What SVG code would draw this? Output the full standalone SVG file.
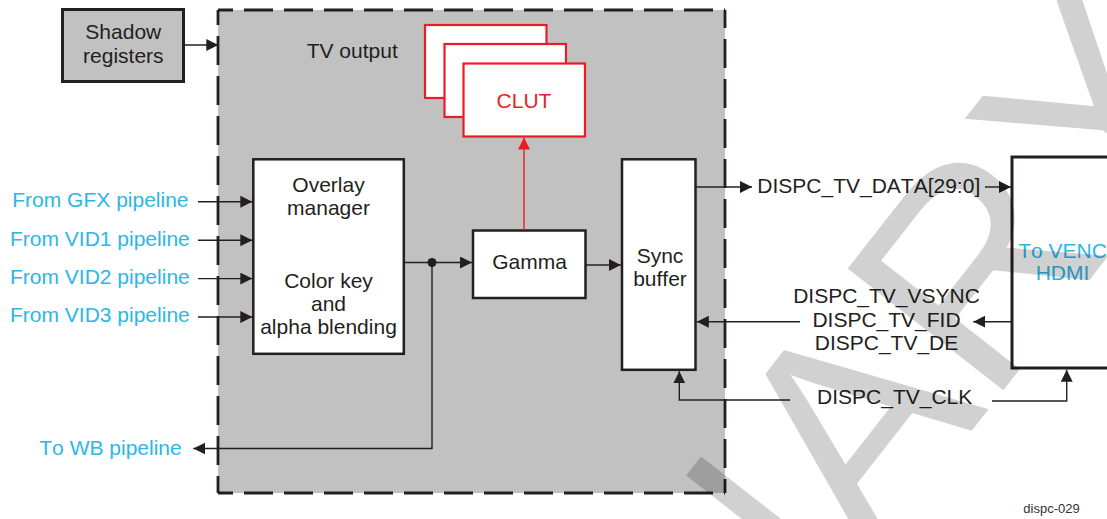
<svg xmlns="http://www.w3.org/2000/svg" width="1107" height="519" viewBox="0 0 1107 519">
<defs>
<style>
text{font-family:"Liberation Sans",Arial,sans-serif;font-size:21px;fill:#231f20;font-kerning:none}
.c{text-anchor:middle}
.cy{fill:#2db6e8}
.red{fill:#ed1c24}
.box{fill:#fff;stroke:#231f20;stroke-width:2.5}
.thick{stroke-width:3}
.clut{fill:#fff;stroke:#ed1c24;stroke-width:2.2}
.ln{fill:none;stroke:#231f20;stroke-width:1.4}
.rln{fill:none;stroke:#ed1c24;stroke-width:1.4}
.dash{fill:none;stroke:#231f20;stroke-width:2.8;stroke-dasharray:29 11}
</style>
<marker id="ah" markerUnits="userSpaceOnUse" markerWidth="13" markerHeight="13" refX="12" refY="6" orient="auto"><path d="M0,0 L12,6 L0,12 z" fill="#231f20"/></marker>
<marker id="ahr" markerUnits="userSpaceOnUse" markerWidth="13" markerHeight="13" refX="12" refY="6" orient="auto"><path d="M0,0 L12,6 L0,12 z" fill="#ed1c24"/></marker>
</defs>
<rect width="1107" height="519" fill="#fff"/>

<g id="tv-output">
<rect x="218" y="10" width="507" height="483" fill="#c1c1c1"/>
<line class="dash" x1="218" y1="10" x2="725" y2="10" stroke-dashoffset="14"/>
<line class="dash" x1="218" y1="10" x2="218" y2="493" stroke-dashoffset="14"/>
<line class="dash" x1="725" y1="10" x2="725" y2="493" stroke-dashoffset="11"/>
<line class="dash" x1="218" y1="493" x2="725" y2="493" stroke-dashoffset="14"/>
<text x="306.7" y="58.3">TV output</text>
</g>

<g id="shadow-registers">
<rect x="62.5" y="9.5" width="121" height="72" fill="#c1c1c1" stroke="#231f20" stroke-width="3"/>
<text class="c" x="123.3" y="39">Shadow</text>
<text class="c" x="123.3" y="63">registers</text>
</g>

<g id="clut">
<rect class="clut" x="425" y="25" width="121.5" height="73"/>
<rect class="clut" x="444.5" y="44" width="121.5" height="73"/>
<rect class="clut" x="463.5" y="63.5" width="121.5" height="73"/>
<text class="c red" x="524" y="108.3">CLUT</text>
</g>

<g id="overlay-manager">
<rect class="box" x="253.3" y="159.3" width="150.5" height="194.5"/>
<text class="c" x="328.5" y="191.5">Overlay</text>
<text class="c" x="328.5" y="214.5">manager</text>
<text class="c" x="328.5" y="287.5">Color key</text>
<text class="c" x="328.5" y="310.5">and</text>
<text class="c" x="328.5" y="333.7">alpha blending</text>
</g>

<g id="gamma">
<rect class="box" x="473" y="230.5" width="112.5" height="67.5"/>
<text class="c" x="529.5" y="269.4">Gamma</text>
</g>

<g id="sync-buffer">
<rect class="box" x="622" y="159.3" width="73.5" height="210.5"/>
<text class="c" x="660" y="262.7">Sync</text>
<text class="c" x="660" y="285.7">buffer</text>
</g>

<g id="venc-hdmi">
<rect class="box thick" x="1012" y="157" width="110" height="211"/>
<text class="c cy" x="1062.5" y="258.3">To VENC</text>
<text class="c cy" x="1062.5" y="280">HDMI</text>
</g>

<g id="inputs">
<text class="cy" x="12.3" y="207.3">From GFX pipeline</text>
<text class="cy" x="10" y="245.7">From VID1 pipeline</text>
<text class="cy" x="10" y="284">From VID2 pipeline</text>
<text class="cy" x="10" y="322.3">From VID3 pipeline</text>
</g>

<g id="wb-output">
<text class="cy" x="39.3" y="455">To WB pipeline</text>
</g>

<g id="signals">
<text x="757.3" y="193.2">DISPC_TV_DATA[29:0]</text>
<text class="c" x="886.5" y="302.7">DISPC_TV_VSYNC</text>
<text class="c" x="886.5" y="326.5">DISPC_TV_FID</text>
<text class="c" x="886.5" y="349.7">DISPC_TV_DE</text>
<text class="c" x="894.7" y="404">DISPC_TV_CLK</text>
</g>

<g id="connectors">
<path class="ln" d="M185,45 H218.3" marker-end="url(#ah)"/>
<path class="ln" d="M198,201.7 H252.3" marker-end="url(#ah)"/>
<path class="ln" d="M198,240.2 H252.3" marker-end="url(#ah)"/>
<path class="ln" d="M198,278.6 H252.3" marker-end="url(#ah)"/>
<path class="ln" d="M198,317 H252.3" marker-end="url(#ah)"/>
<path class="ln" d="M404,262.5 H472" marker-end="url(#ah)"/>
<circle cx="432" cy="262.5" r="4.5" fill="#231f20"/>
<path class="ln" d="M432,262.5 V448.5 H193.3" marker-end="url(#ah)"/>
<path class="rln" d="M524,230 V137.5" marker-end="url(#ahr)"/>
<path class="ln" d="M586,265 H620.8" marker-end="url(#ah)"/>
<path class="ln" d="M696,187 H752" marker-end="url(#ah)"/>
<path class="ln" d="M985,187 H1011" marker-end="url(#ah)"/>
<path class="ln" d="M1011,321.7 H973.3" marker-end="url(#ah)"/>
<path class="ln" d="M800,321.7 H696.8" marker-end="url(#ah)"/>
<path class="ln" d="M790,400 H679.3 V371.3" marker-end="url(#ah)"/>
<path class="ln" d="M992,401 H1066.7 V369.8" marker-end="url(#ah)"/>
</g>

<g id="watermark" opacity="0.175">
<text x="0" y="0" transform="translate(743.4 722.9) rotate(-52)" style="font-size:287px;fill:#000">NARY</text>
</g>

<text x="1023.3" y="513.3" style="font-size:13px;fill:#333">dispc-029</text>
</svg>
